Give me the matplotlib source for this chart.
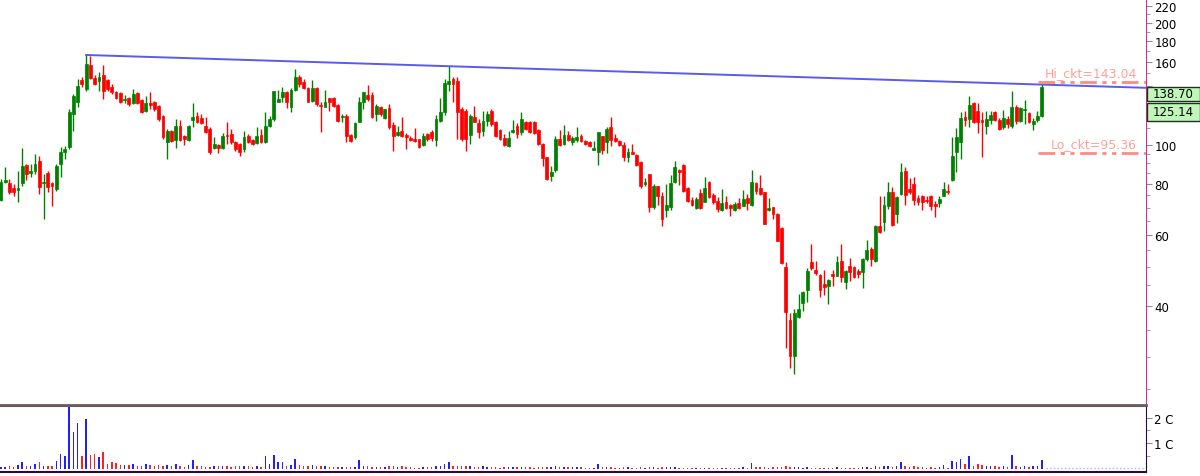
import matplotlib
matplotlib.use('Agg')
import matplotlib.pyplot as plt
from matplotlib.patches import Rectangle
from matplotlib.ticker import FixedLocator, FixedFormatter, NullFormatter
import numpy as np

# daily OHLC (log price scale)
opens = [73.0, 80.9, 80.4, 78.2, 77.3, 80.4, 89.1, 85.2, 86.1, 91.1,
         80.4, 85.2, 80.4, 77.7, 89.6, 95.9, 98.7, 119.1, 127.5, 144.5,
         137.2, 157.4, 146.1, 143.6, 148.6, 144.5, 138.8, 134.9, 134.1, 129.3,
         130.4, 126.7, 134.1, 128.9, 121.1, 126.7, 127.5, 124.6, 117.7, 101.6,
         108.1, 102.7, 111.2, 105.1, 102.7, 115.1, 117.7, 116.4, 111.2, 109.3,
         98.1, 99.8, 98.1, 105.7, 106.3, 101.6, 100.4, 97.6, 105.1, 102.7,
         101.0, 105.7, 101.6, 111.2, 115.7, 127.5, 131.2, 134.9, 123.9, 136.4,
         147.0, 142.8, 138.0, 128.2, 138.0, 125.3, 123.9, 130.4, 130.4, 125.3,
         117.0, 117.7, 105.7, 104.5, 113.8, 127.5, 132.6, 132.6, 119.1, 123.9,
         116.4, 123.2, 111.9, 105.7, 108.1, 105.7, 103.9, 103.3, 103.3, 99.8,
         106.3, 107.5, 102.7, 114.4, 120.4, 141.2, 145.3, 143.6, 122.5, 121.1,
         105.7, 117.0, 113.1, 108.1, 114.4, 121.1, 113.8, 108.7, 103.9, 99.3,
         107.5, 111.2, 107.5, 113.8, 113.8, 113.8, 108.7, 100.4, 93.2, 83.7,
         86.6, 103.3, 100.4, 105.7, 101.6, 102.7, 105.1, 102.2, 101.6, 97.0,
         95.9, 105.1, 101.6, 110.6, 103.9, 102.2, 99.8, 93.2, 95.9, 94.3,
         90.6, 80.0, 84.7, 70.2, 79.1, 74.7, 69.0, 70.2, 80.9, 86.6,
         89.1, 78.2, 73.0, 69.8, 76.0, 72.2, 80.9, 75.1, 72.6, 69.0,
         72.2, 71.0, 69.0, 71.8, 70.6, 73.9, 71.0, 80.4, 78.2, 76.4,
         69.0, 70.2, 67.4, 62.3, 49.9, 36.9, 30.2, 37.6, 40.6, 43.8,
         51.3, 49.0, 47.7, 45.3, 44.8, 47.9, 47.4, 51.6, 45.8, 50.2,
         49.9, 48.7, 48.5, 52.2, 55.3, 51.6, 63.0, 64.4, 70.6, 76.4,
         67.4, 75.6, 86.1, 77.7, 80.0, 73.9, 74.7, 73.0, 74.7, 71.4,
         71.8, 74.7, 76.8, 81.8, 95.9, 101.6, 117.0, 115.7, 126.7, 121.1,
         115.1, 111.2, 115.1, 120.4, 115.1, 110.6, 115.7, 111.2, 123.9, 114.4,
         121.8, 119.8, 112.5, 115.1, 117.7]

highs = [82.3, 88.1, 82.3, 80.0, 86.1, 98.1, 89.6, 89.6, 94.8, 93.8,
         84.7, 86.1, 80.9, 89.6, 98.7, 99.3, 122.5, 133.4, 145.3, 147.0,
         166.6, 165.6, 148.6, 151.2, 157.4, 145.3, 141.2, 135.7, 134.9, 132.6,
         131.2, 137.2, 134.9, 129.7, 131.9, 134.9, 128.2, 125.3, 118.4, 109.3,
         108.7, 115.7, 115.1, 105.7, 111.9, 126.7, 120.4, 119.1, 117.0, 110.6,
         104.5, 100.4, 106.9, 113.8, 109.3, 102.2, 101.0, 108.1, 106.3, 103.3,
         110.6, 109.3, 120.4, 117.7, 135.7, 136.4, 138.8, 135.7, 137.9, 153.8,
         148.6, 145.3, 138.8, 144.5, 138.8, 127.5, 136.4, 130.4, 131.2, 126.0,
         119.1, 119.1, 106.3, 113.8, 131.2, 134.9, 140.4, 134.9, 126.0, 124.6,
         122.5, 126.0, 113.8, 111.2, 117.0, 106.9, 105.1, 109.9, 103.3, 106.9,
         106.9, 108.7, 118.4, 130.4, 145.3, 156.5, 147.0, 147.0, 123.9, 122.5,
         119.1, 124.6, 115.7, 121.1, 121.1, 122.5, 114.4, 109.3, 106.3, 108.1,
         115.1, 113.1, 120.4, 114.4, 114.4, 114.4, 109.3, 101.0, 93.2, 88.6,
         105.1, 108.7, 111.9, 108.1, 105.1, 110.6, 106.3, 102.7, 102.2, 102.2,
         107.5, 105.1, 110.6, 117.0, 106.3, 102.7, 101.6, 98.1, 100.4, 94.8,
         91.1, 82.8, 84.7, 80.0, 79.1, 76.4, 80.0, 84.2, 91.1, 87.1,
         89.6, 78.6, 74.3, 74.3, 77.7, 83.3, 81.4, 76.0, 74.3, 77.7,
         74.7, 71.4, 72.2, 73.9, 77.3, 75.6, 86.6, 80.9, 84.2, 76.4,
         73.9, 70.2, 67.8, 62.6, 51.3, 38.4, 39.3, 42.8, 43.5, 49.6,
         56.8, 51.6, 47.9, 49.0, 46.6, 49.0, 53.1, 56.8, 49.0, 52.5,
         50.2, 49.3, 52.5, 58.2, 55.9, 63.4, 74.7, 74.7, 80.9, 78.6,
         74.7, 90.1, 88.1, 82.8, 83.3, 75.1, 75.1, 74.7, 75.1, 72.6,
         74.7, 80.9, 80.0, 104.5, 109.9, 120.4, 121.1, 131.9, 127.5, 126.7,
         120.4, 121.1, 121.1, 121.1, 116.4, 121.8, 117.7, 135.7, 125.3, 123.9,
         128.9, 120.4, 116.4, 121.1, 141.2]

lows = [72.6, 80.4, 75.6, 74.7, 72.2, 79.1, 81.8, 83.3, 84.7, 75.6,
        65.5, 76.4, 70.6, 76.8, 83.3, 92.2, 97.6, 107.9, 123.9, 138.8,
        135.7, 145.3, 140.4, 135.7, 129.7, 135.7, 133.4, 129.7, 126.7, 126.7,
        124.6, 126.0, 126.0, 119.8, 120.4, 122.5, 121.1, 114.4, 103.3, 92.2,
        101.6, 98.1, 102.2, 99.8, 102.2, 110.6, 113.1, 112.5, 106.9, 94.8,
        97.6, 95.3, 97.6, 100.4, 100.4, 96.5, 93.8, 95.9, 101.0, 99.8,
        100.4, 101.0, 101.0, 110.6, 114.4, 127.5, 127.5, 123.2, 120.4, 135.7,
        138.8, 137.2, 127.5, 127.5, 124.6, 107.5, 123.9, 121.1, 123.9, 113.8,
        113.8, 101.6, 101.6, 103.3, 113.8, 122.5, 128.2, 116.4, 114.4, 117.7,
        115.7, 109.3, 96.5, 105.1, 104.5, 97.6, 102.2, 101.6, 98.1, 99.3,
        102.2, 102.2, 99.3, 113.8, 118.4, 135.7, 127.5, 103.3, 102.2, 96.5,
        100.4, 113.8, 103.9, 105.1, 111.2, 111.2, 104.5, 102.7, 99.3, 98.7,
        106.9, 103.9, 105.7, 108.7, 106.9, 106.3, 99.8, 88.6, 81.8, 81.4,
        85.7, 99.3, 99.8, 102.2, 99.8, 101.6, 101.6, 99.8, 98.7, 97.0,
        89.1, 94.8, 95.3, 99.3, 101.6, 99.3, 91.1, 90.6, 94.8, 88.6,
        78.2, 79.1, 68.2, 69.4, 71.0, 63.0, 66.3, 69.0, 80.4, 79.5,
        76.4, 72.2, 70.6, 69.4, 69.4, 72.2, 73.9, 71.4, 68.2, 68.6,
        69.4, 66.7, 68.6, 69.4, 70.6, 69.0, 70.6, 75.6, 75.1, 63.7,
        68.6, 65.5, 57.8, 50.7, 31.6, 28.2, 27.2, 37.4, 38.9, 40.9,
        49.0, 47.7, 42.1, 42.6, 40.4, 44.8, 47.4, 45.8, 44.0, 46.1,
        46.9, 46.9, 44.3, 51.6, 50.2, 51.3, 60.5, 61.2, 69.4, 63.0,
        64.0, 75.1, 71.0, 75.6, 71.0, 71.0, 69.0, 71.8, 69.0, 66.3,
        70.2, 74.7, 75.6, 81.4, 85.7, 92.2, 111.2, 110.6, 113.1, 106.9,
        93.2, 106.3, 112.5, 114.4, 108.7, 109.3, 110.0, 110.0, 112.5, 113.8,
        112.5, 113.1, 108.7, 113.8, 117.0]

closes = [80.9, 81.8, 76.4, 76.4, 78.2, 88.6, 84.7, 86.1, 89.6, 78.6,
          80.9, 78.6, 79.1, 88.6, 95.9, 97.6, 120.4, 131.9, 139.6, 141.2,
          158.2, 146.1, 141.2, 147.0, 135.7, 137.2, 134.9, 130.4, 127.5, 129.7,
          126.0, 133.4, 126.7, 120.4, 126.7, 125.3, 122.5, 115.7, 104.5, 108.1,
          102.2, 111.2, 102.7, 103.3, 111.2, 117.0, 113.8, 113.1, 107.5, 95.9,
          100.4, 98.1, 105.1, 105.1, 101.6, 97.6, 95.9, 104.5, 101.6, 100.4,
          105.1, 101.6, 111.2, 115.7, 135.7, 129.7, 134.9, 127.5, 136.4, 147.0,
          141.2, 138.0, 127.5, 138.0, 126.0, 124.6, 127.5, 127.5, 124.6, 114.4,
          117.7, 105.1, 102.2, 113.1, 127.5, 134.9, 129.7, 117.0, 124.6, 119.1,
          122.5, 110.6, 105.1, 107.5, 105.1, 104.5, 102.7, 102.2, 98.7, 105.1,
          103.3, 103.9, 115.7, 120.4, 142.0, 143.6, 141.2, 120.4, 103.3, 103.3,
          117.7, 113.8, 107.5, 114.4, 119.1, 112.5, 105.1, 103.3, 99.8, 103.9,
          108.7, 106.3, 115.7, 109.3, 107.5, 106.9, 100.4, 92.7, 82.3, 85.7,
          103.3, 99.8, 105.7, 102.7, 103.9, 104.5, 102.2, 100.4, 99.3, 98.1,
          107.5, 97.0, 109.3, 102.7, 102.2, 99.8, 93.2, 95.9, 94.8, 89.1,
          79.1, 80.9, 70.2, 79.1, 74.7, 65.5, 71.0, 80.4, 88.1, 85.7,
          76.8, 72.6, 71.0, 73.4, 69.8, 78.2, 74.3, 72.2, 69.4, 71.8,
          69.8, 69.8, 71.4, 69.8, 73.4, 71.8, 80.9, 76.8, 75.6, 63.7,
          69.8, 67.4, 57.8, 51.0, 38.6, 30.2, 38.4, 39.3, 43.3, 48.7,
          49.6, 48.2, 43.8, 44.5, 46.3, 47.4, 51.3, 47.1, 48.7, 48.5,
          47.1, 47.9, 52.2, 55.0, 52.2, 63.0, 60.9, 71.0, 76.4, 63.4,
          74.3, 85.7, 75.1, 76.4, 73.0, 72.2, 72.2, 72.6, 70.6, 70.6,
          73.4, 77.7, 76.4, 93.8, 104.5, 116.4, 115.1, 125.3, 113.8, 113.8,
          113.8, 115.7, 118.4, 115.1, 109.3, 116.4, 112.5, 123.9, 114.4, 123.2,
          122.5, 113.8, 114.4, 117.7, 138.70]

# volume in crore
volume_cr = [0.08, 0.08, 0.10, 0.08, 0.15, 0.25, 0.10, 0.12, 0.20, 0.25,
             0.12, 0.12, 0.10, 0.30, 0.60, 0.50, 2.60, 1.45, 1.80, 0.50,
             1.95, 0.55, 0.60, 0.45, 0.65, 0.20, 0.25, 0.22, 0.15, 0.17,
             0.17, 0.20, 0.10, 0.12, 0.20, 0.15, 0.10, 0.15, 0.12, 0.17,
             0.10, 0.20, 0.10, 0.07, 0.17, 0.35, 0.12, 0.12, 0.08, 0.08,
             0.10, 0.12, 0.10, 0.12, 0.08, 0.10, 0.10, 0.12, 0.12, 0.08,
             0.10, 0.07, 0.50, 0.20, 0.55, 0.27, 0.25, 0.12, 0.15, 0.37,
             0.15, 0.12, 0.12, 0.17, 0.10, 0.12, 0.10, 0.08, 0.08, 0.07,
             0.07, 0.07, 0.07, 0.07, 0.33, 0.10, 0.10, 0.08, 0.08, 0.06,
             0.08, 0.10, 0.10, 0.06, 0.12, 0.06, 0.06, 0.05, 0.05, 0.06,
             0.06, 0.06, 0.12, 0.12, 0.20, 0.25, 0.12, 0.12, 0.10, 0.10,
             0.10, 0.08, 0.08, 0.10, 0.06, 0.08, 0.06, 0.05, 0.06, 0.06,
             0.06, 0.06, 0.08, 0.07, 0.06, 0.05, 0.06, 0.06, 0.08, 0.06,
             0.12, 0.06, 0.08, 0.06, 0.06, 0.07, 0.06, 0.05, 0.05, 0.05,
             0.20, 0.06, 0.08, 0.07, 0.05, 0.05, 0.06, 0.07, 0.05, 0.05,
             0.06, 0.05, 0.06, 0.07, 0.05, 0.06, 0.08, 0.08, 0.08, 0.05,
             0.05, 0.05, 0.04, 0.05, 0.04, 0.05, 0.04, 0.04, 0.05, 0.05,
             0.04, 0.05, 0.05, 0.04, 0.06, 0.05, 0.22, 0.06, 0.07, 0.08,
             0.05, 0.06, 0.07, 0.08, 0.10, 0.08, 0.07, 0.06, 0.05, 0.06,
             0.05, 0.04, 0.04, 0.05, 0.04, 0.05, 0.06, 0.05, 0.04, 0.05,
             0.04, 0.04, 0.06, 0.08, 0.05, 0.10, 0.06, 0.10, 0.12, 0.08,
             0.10, 0.27, 0.12, 0.08, 0.10, 0.06, 0.06, 0.05, 0.06, 0.05,
             0.08, 0.17, 0.05, 0.30, 0.27, 0.40, 0.20, 0.50, 0.12, 0.20,
             0.15, 0.10, 0.12, 0.10, 0.08, 0.10, 0.07, 0.55, 0.10, 0.08,
             0.12, 0.08, 0.10, 0.10, 0.35]

hi_ckt = 143.04
lo_ckt = 95.36
last_close = 138.70
second_level = 125.14

# trendline through two swing highs (candle index, price)
trend_x = [20, 105]
trend_y = [166.6, 156.3]

# 140 sits under the price box, so only its tick mark shows
price_ticks = [40, 60, 80, 100, 140, 160, 180, 200, 220]
price_labels = ['40', '60', '80', '100', '', '160', '180', '200', '220']
price_minor = [25, 30, 35, 45, 50, 55, 65, 70, 75, 85, 90, 95,
               110, 120, 130, 150, 170, 190, 210]
vol_ticks = [1, 2]
vol_labels = ['1 C', '2 C']

n = len(closes)
x = np.arange(n)
o = np.array(opens)
c = np.array(closes)
up = c >= o

fig = plt.figure(figsize=(12, 4.77), dpi=100)
ax = fig.add_axes([0, 1 - 406 / 477, 1146 / 1200, 406 / 477])
axv = fig.add_axes([0, 1 - 473 / 477, 1146 / 1200, 66 / 477])

step = 4.266
xmax = 1146 / step - 0.2

# candles
cols = np.where(up, '#008000', '#ff0000')
ax.vlines(x, lows, highs, colors=cols, lw=1, zorder=2)
ax.bar(x, np.abs(c - o), bottom=np.minimum(o, c), width=0.66,
       color=cols, edgecolor=cols, lw=0.5, zorder=3)

ax.set_yscale('log')
ax.set_ylim(22.8, 229)
ax.set_xlim(-0.2, xmax)

# trendline
slope = (np.log10(trend_y[1]) - np.log10(trend_y[0])) / (trend_x[1] - trend_x[0])
tx = np.array([trend_x[0], xmax])
ty = 10 ** (np.log10(trend_y[0]) + slope * (tx - trend_x[0]))
ax.plot(tx, ty, color='#5a5af0', lw=1.4, zorder=4)

# circuit levels
for lvl, name in [(hi_ckt, 'Hi_ckt'), (lo_ckt, 'Lo_ckt')]:
    ax.plot([243.1, xmax], [lvl, lvl], color='#ff8a80', lw=2,
            dashes=(6, 2, 1.5, 2, 1.5, 2), zorder=4)
    ax.annotate(f'{name}={lvl:.2f}', xy=(1137 / 1146, lvl),
                xycoords=('axes fraction', 'data'), xytext=(0, 2),
                textcoords='offset points', ha='right', va='bottom',
                color='#ffa09a', fontsize=9)

ax.yaxis.tick_right()
ax.yaxis.set_major_locator(FixedLocator(price_ticks))
ax.yaxis.set_major_formatter(FixedFormatter(price_labels))
ax.yaxis.set_minor_locator(FixedLocator(price_minor))
ax.yaxis.set_minor_formatter(NullFormatter())
ax.tick_params(axis='y', which='major', length=4, color='#8090a8', labelsize=8.5, pad=2)
ax.tick_params(axis='y', which='minor', length=3, color='#8090a8')
ax.set_xticks([])
for s in ['top', 'left']:
    ax.spines[s].set_visible(False)
ax.spines['bottom'].set_color('#6e5a5a')
ax.spines['bottom'].set_linewidth(2)
ax.spines['right'].set_color('#d0308a')

# volume
axv.bar(x, volume_cr, width=0.35, color=np.where(up, '#2020ff', '#ff2020'))
axv.plot([n, xmax], [0.02, 0.02], ls=':', color='#a8b0ff', lw=1)
axv.set_xlim(-0.2, xmax)
axv.set_ylim(-0.12, 2.45)
axv.yaxis.tick_right()
axv.set_yticks(vol_ticks)
axv.set_yticklabels(vol_labels)
axv.yaxis.set_minor_locator(FixedLocator([0.5, 1.5]))
axv.tick_params(axis='y', which='major', length=4, color='#8090a8', labelsize=8.5, pad=2)
axv.tick_params(axis='y', which='minor', length=3, color='#8090a8')
axv.set_xticks([])
axv.spines['left'].set_visible(False)
axv.spines['top'].set_color('#6e5a5a')
axv.spines['bottom'].set_color('#2a0a3a')
axv.spines['bottom'].set_linewidth(1.5)
axv.spines['right'].set_color('#2a0a3a')

# price boxes on the axis
for lvl, top, h in [(last_close, 88, 14), (second_level, 104, 18)]:
    fig.add_artist(Rectangle((1147 / 1200, 1 - (top + h) / 477), 53 / 1200, h / 477,
                             transform=fig.transFigure, fc='#c0f7b8', ec='#203020', lw=1))
    fig.text(1153 / 1200, 1 - (top + h / 2) / 477, f'{lvl:.2f}',
             va='center', ha='left', fontsize=8.5, color='black')

fig.savefig('out.png', dpi=100)
